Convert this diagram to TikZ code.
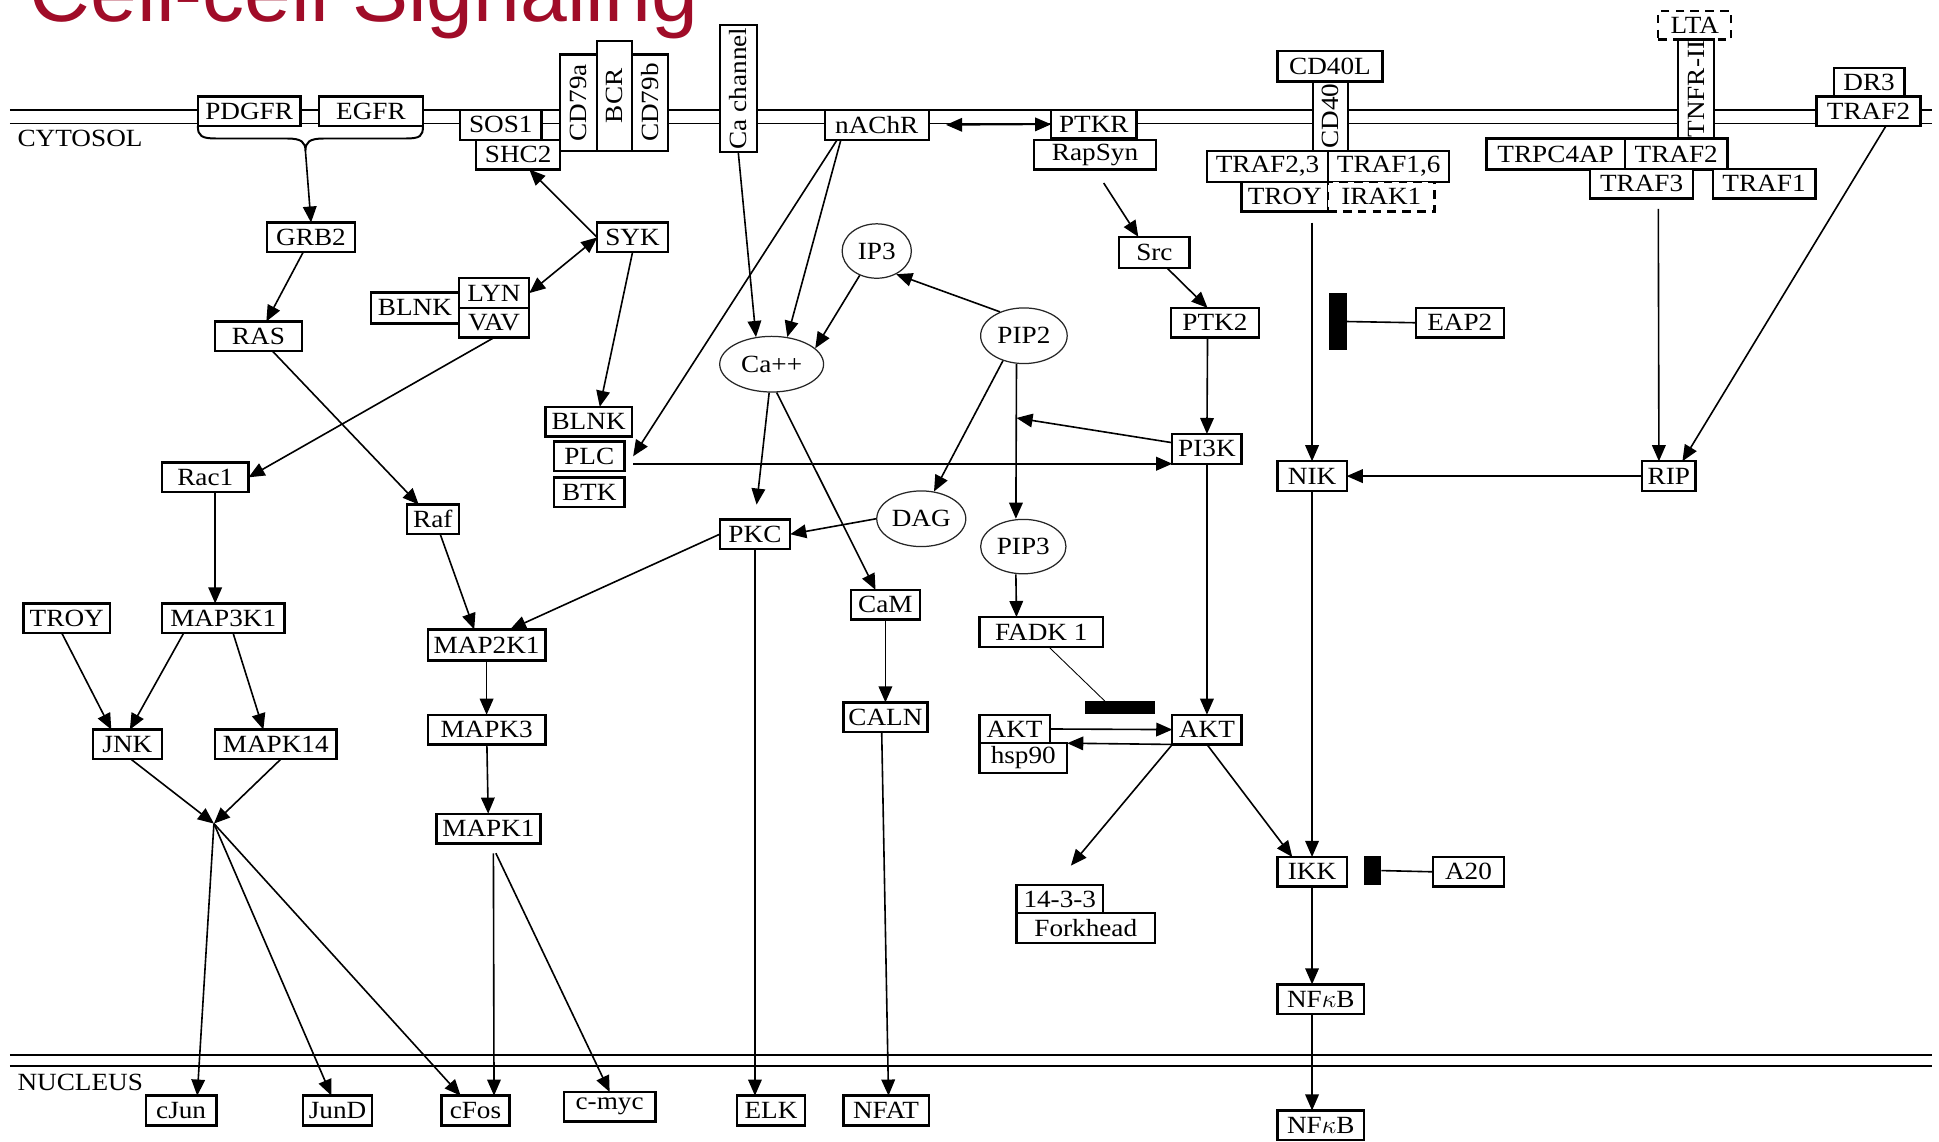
\documentclass[tikz,border=0pt]{standalone}
\usepackage{fontspec}
\setmainfont{Liberation Serif}[FakeStretch=1.1]
\newfontfamily\titlefont{Liberation Sans}
\usepackage{tikz}
\usetikzlibrary{arrows.meta,positioning,shapes.geometric}
\definecolor{titlered}{RGB}{160,12,40}
\newcommand{\gfont}{\fontsize{20}{22}\selectfont}

\begin{document}
\begin{tikzpicture}[x=1pt, y=-1pt,
    gene/.style={rectangle, draw=black, fill=white, line width=1.9pt, inner sep=0pt,
        outer sep=0pt, minimum height=24pt, font=\gfont},
    vgene/.style={gene, rotate=90},
    unsure/.style={gene, dash pattern=on 7pt off 5pt},
    mol/.style={ellipse, draw=black!85, fill=white, line width=1pt, inner sep=0pt, font=\gfont},
    inh/.style={rectangle, fill=black, inner sep=0pt, outer sep=0pt},
    arr/.style={-{Triangle[length=13pt,width=11pt]}, line width=1.3pt},
    darr/.style={{Triangle[length=13pt,width=11pt]}-{Triangle[length=13pt,width=11pt]}, line width=1.3pt},
    memb/.style={line width=1.2pt},
    region/.style={anchor=west, inner sep=0pt, font=\gfont}
]
\path[use as bounding box] (0,0) rectangle (1568,923);
\clip (0,0) rectangle (1568,923);
\fill[white] (0,0) rectangle (1568,923);

\node[anchor=base west, inner sep=0pt, text=titlered, font=\titlefont\fontsize{68}{70}\selectfont]
    (title) at (24,17.5) {Cell-cell Signaling};

% membranes
\draw[memb] (8,89) -- (1562,89) (8,100) -- (1562,100);
\draw[memb] (8,853) -- (1562,853) (8,862) -- (1562,862);
\node[region] (cytosol) at (14,112) {CYTOSOL};
\node[region] (nucleus) at (14,875) {NUCLEUS};

% receptors
\node[gene, minimum width=83pt] (pdgfr) at (201.5,90) {PDGFR};
\node[gene, minimum width=84pt] (egfr) at (300,90) {EGFR};
\node[gene, minimum width=66pt] (sos1) at (405,101) {SOS1};
\node[gene, minimum width=68pt] (shc2) at (419,125) {SHC2};
\node[vgene, minimum width=78pt, minimum height=30pt] (cd79a) at (468,83) {CD79a};
\node[vgene, minimum width=89pt, minimum height=28pt] (bcr) at (497,77.5) {BCR};
\node[vgene, minimum width=78pt, minimum height=29pt] (cd79b) at (525.5,83) {CD79b};
\node[vgene, minimum width=103pt, minimum height=30pt] (cachannel) at (597,71.5) {Ca channel};
\node[gene, minimum width=84pt] (nachr) at (709,101) {nAChR};
\node[gene, minimum width=69pt, minimum height=23pt] (ptkr) at (884.5,100.5) {PTKR};
\node[gene, minimum width=99pt] (rapsyn) at (885.5,125) {RapSyn};
\node[gene, minimum width=85pt, minimum height=25pt] (cd40l) at (1075.5,53.5) {CD40L};
\node[vgene, minimum width=56pt, minimum height=28pt] (cd40) at (1076,94) {CD40};
\node[gene, minimum width=98pt, minimum height=25pt] (traf23) at (1025,134.5) {TRAF2,3};
\node[gene, minimum width=98pt, minimum height=25pt] (traf16) at (1123,134.5) {TRAF1,6};
\node[gene, minimum width=70pt] (troyb) at (1039,159) {TROY};
\node[unsure, minimum width=86pt] (irak1) at (1117,159) {IRAK1};
\node[unsure, minimum width=59pt, minimum height=23pt] (lta) at (1370.5,20.5) {LTA};
\node[vgene, minimum width=80pt, minimum height=29pt] (tnfr) at (1371.5,72) {TNFR-II};
\node[gene, minimum width=112pt, minimum height=25pt] (trpc4ap) at (1258,124.5) {TRPC4AP};
\node[gene, minimum width=83pt, minimum height=25pt] (traf2a) at (1355.5,124.5) {TRAF2};
\node[gene, minimum width=83pt] (traf3) at (1327.5,148.5) {TRAF3};
\node[gene, minimum width=83pt] (traf1) at (1426.5,148.5) {TRAF1};
\node[gene, minimum width=57pt] (dr3) at (1511.5,67) {DR3};
\node[gene, minimum width=84pt] (traf2b) at (1511,90) {TRAF2};

% cytosol
\node[gene, minimum width=71pt] (grb2) at (251.5,192) {GRB2};
\node[gene, minimum width=70pt] (ras) at (209,272) {RAS};
\node[gene, minimum width=57pt] (syk) at (511.5,192) {SYK};
\node[gene, minimum width=57pt] (lyn) at (399.5,237) {LYN};
\node[gene, minimum width=57pt, below=0pt of lyn] (vav) {VAV};
\node[gene, minimum width=71pt, minimum height=25pt] (blnka) at (335.5,249) {BLNK};
\node[gene, minimum width=70pt] (blnkb) at (476,341) {BLNK};
\node[gene, minimum width=57pt] (plc) at (476.5,369) {PLC};
\node[gene, minimum width=57pt] (btk) at (476.5,398) {BTK};
\node[gene, minimum width=57pt, minimum height=25pt] (src) at (933.5,204) {Src};
\node[gene, minimum width=71pt] (ptk2) at (982.5,261) {PTK2};
\node[gene, minimum width=56pt] (pi3k) at (976,363) {PI3K};
\node[mol, minimum width=56pt, minimum height=44pt] (ip3) at (709,203) {IP3};
\node[mol, minimum width=84pt, minimum height=45pt] (caion) at (624,294.5) {Ca++};
\node[mol, minimum width=70pt, minimum height=45pt] (pip2) at (828,271.5) {PIP2};
\node[mol, minimum width=72pt, minimum height=45pt] (dag) at (745,419.5) {DAG};
\node[mol, minimum width=69pt, minimum height=44pt] (pip3) at (827.5,442) {PIP3};
\node[gene, minimum width=57pt] (pkc) at (610.5,432) {PKC};
\node[gene, minimum width=56pt] (cam) at (716,489) {CaM};
\node[gene, minimum width=68pt] (caln) at (716,580) {CALN};
\node[gene, minimum width=100pt] (fadk) at (842,511) {FADK 1};
\node[inh, minimum width=57pt, minimum height=10pt] (fbar) at (905.5,572) {};
\node[gene, minimum width=57pt, minimum height=23pt] (aktb) at (820.5,589.5) {AKT};
\node[gene, minimum width=71pt, below right=0pt and 0pt of aktb.south west] (hsp90) {hsp90};
\node[gene, minimum width=56pt] (akt) at (976,590) {AKT};
\node[gene, minimum width=70pt, minimum height=23pt] (fourteen) at (857,727) {14-3-3};
\node[gene, minimum width=112pt, below right=0pt and 0pt of fourteen.south west] (forkhead) {Forkhead};
\node[inh, minimum width=14pt, minimum height=46pt] (ebar) at (1082,260) {};
\node[gene, minimum width=71pt] (eap2) at (1180.5,261) {EAP2};
\node[gene, minimum width=56pt] (nik) at (1061,385) {NIK};
\node[gene, minimum width=43pt] (rip) at (1349.5,385) {RIP};
\node[gene, minimum width=56pt] (ikk) at (1061,705) {IKK};
\node[inh, minimum width=14pt, minimum height=23pt] (abar) at (1110,704) {};
\node[gene, minimum width=57pt] (a20) at (1187.5,705) {A20};
\node[gene, minimum width=70pt] (nfkb) at (1068,808) {NF$\kappa$B};
\node[gene, minimum width=70pt] (rac1) at (166,386) {Rac1};
\node[gene, minimum width=42pt] (raf) at (350,420) {Raf};
\node[gene, minimum width=70pt] (troya) at (54,500) {TROY};
\node[gene, minimum width=99pt] (map3k1) at (180.5,500) {MAP3K1};
\node[gene, minimum width=56pt] (jnk) at (103,602) {JNK};
\node[gene, minimum width=98pt] (mapk14) at (223,602) {MAPK14};
\node[gene, minimum width=95pt, minimum height=25pt] (map2k1) at (393.5,521.5) {MAP2K1};
\node[gene, minimum width=95pt] (mapk3) at (393.5,590) {MAPK3};
\node[gene, minimum width=84pt] (mapk1) at (395,670) {MAPK1};

% nucleus
\node[gene, minimum width=57pt] (cjun) at (146.5,898) {cJun};
\node[gene, minimum width=56pt] (jund) at (273,898) {JunD};
\node[gene, minimum width=55pt] (cfos) at (384.5,898) {cFos};
\node[gene, minimum width=74pt] (cmyc) at (493,895) {c-myc};
\node[gene, minimum width=55pt] (elk) at (623.5,898) {ELK};
\node[gene, minimum width=69pt] (nfat) at (716.5,898) {NFAT};
\node[gene, minimum width=70pt] (nfkbnuc) at (1068,910) {NF$\kappa$B};

\coordinate (brace) at (247,122);
\coordinate (pjoin) at (822,338);
\coordinate (jn) at (173,666);
\coordinate (fkend) at (866,700);
\coordinate (cdout) at (1061,180);
\coordinate (t3out) at (1341,169);

\draw[line width=1.6pt] (pdgfr.south west) .. controls (160,110) and (163,112) .. (175,112) -- (232,112)
    .. controls (244,112) and (247,115) .. (brace) .. controls (247,115) and (250,112) .. (262,112)
    -- (328,112) .. controls (340,112) and (342,110) .. (egfr.south east);
\draw[arr] (brace) -- (grb2.north);
\draw[arr] (grb2) -- (ras);
\draw[arr] (ras) -- (raf);
\draw[arr] (vav.south) -- (rac1.east);
\draw[darr] (lyn.east) -- (syk.west);
\draw[arr] (syk.west) -- ([xshift=9pt]shc2.south);
\draw[arr] (syk.south) -- ([xshift=9pt]blnkb.north);
\draw[arr] (cachannel.west) -- (caion.120);
\draw[arr] ([xshift=-29pt]nachr.south) -- (caion.60);
\draw[arr] ([xshift=-32pt]nachr.south) -- ([xshift=7pt]plc.east);
\draw[darr] ([xshift=14pt]nachr.east) -- (ptkr.west);
\draw[arr] ([xshift=7pt,yshift=-11pt]rapsyn.south) -- ([xshift=-13pt]src.north);
\draw[arr] ([xshift=10pt]src.south) -- ([xshift=-6pt]ptk2.north);
\draw[arr] ([xshift=-6pt]ptk2.south) -- (pi3k.north);
\draw[arr] (ip3.235) -- (caion.20);
\draw[arr] (pip2.135) -- (ip3.-50);
\draw[arr] (pip2.230) -- (dag.65);
\draw[arr] ([xshift=-6pt]pip2.south) -- ([xshift=-6pt]pip3.north);
\draw[arr] ([yshift=5pt]pi3k.west) -- (pjoin);
\draw[arr] ([xshift=7pt,yshift=-6pt]plc.east) -- (pi3k.south west);
\draw[arr, shorten >=12pt] (caion.265) -- (pkc.north);
\draw[arr] (caion.-80) -- ([xshift=-8pt]cam.north);
\draw[arr] (dag.west) -- (pkc.east);
\draw[arr] (pkc.west) -- ([xshift=19pt]map2k1.north);
\draw[arr] (pkc.south) -- (pkc.south |- elk.north);
\draw[arr] (cam) -- (caln);
\draw[arr] ([xshift=-3pt]caln.south) -- ([xshift=2pt]nfat.north);
\draw[arr] ([xshift=-6pt]pip3.south) -- ([xshift=-20pt]fadk.north);
\draw[line width=0.7pt] ([xshift=6pt]fadk.south) -- ([xshift=-12pt]fbar.north);
\draw[arr] (aktb.east) -- (akt.west);
\draw[arr] (akt.south west) -- (hsp90.north east);
\draw[arr] (pi3k) -- (akt);
\draw[arr] (akt.south west) -- (fkend);
\draw[arr] (akt.south) -- ([xshift=-16pt]ikk.north);
\draw[arr] (cdout) -- (nik.north);
\draw[line width=1.3pt] (ebar.east) -- (eap2.west);
\draw[arr] (rip.west) -- (nik.east);
\draw[arr] (t3out) -- ([xshift=-8pt]rip.north);
\draw[arr] ([xshift=14pt]traf2b.south) -- ([xshift=11pt]rip.north);
\draw[arr] (nik) -- (ikk);
\draw[line width=1.3pt] (abar.east) -- (a20.west);
\draw[arr] (ikk.south) -- ([xshift=-7pt]nfkb.north);
\draw[arr] ([xshift=-7pt]nfkb.south) -- ([xshift=-7pt]nfkbnuc.north);
\draw[arr] ([xshift=8pt]rac1.south) -- ([xshift=-6.5pt]map3k1.north);
\draw[arr] ([xshift=6pt]raf.south) -- ([xshift=-10pt]map2k1.north);
\draw[arr] ([xshift=-4pt]troya.south) -- ([xshift=-13pt]jnk.north);
\draw[arr] ([xshift=-32pt]map3k1.south) -- ([xshift=2pt]jnk.north);
\draw[arr] ([xshift=8pt]map3k1.south) -- ([xshift=-10pt]mapk14.north);
\draw[arr] ([xshift=3pt]jnk.south) -- (jn);
\draw[arr] ([xshift=4pt]mapk14.south) -- (jn);
\draw[arr] (jn) -- ([xshift=13pt]cjun.north);
\draw[arr] (jn) -- ([xshift=-5pt]jund.north);
\draw[arr] (jn) -- ([xshift=-12pt]cfos.north);
\draw[arr] (map2k1) -- (mapk3);
\draw[arr] (mapk3) -- (mapk1);
\draw[arr] ([xshift=4pt,yshift=-8pt]mapk1.south) -- ([xshift=15pt]cfos.north);
\draw[arr] ([xshift=6pt,yshift=-8pt]mapk1.south) -- (cmyc.north);
\end{tikzpicture}
\end{document}
